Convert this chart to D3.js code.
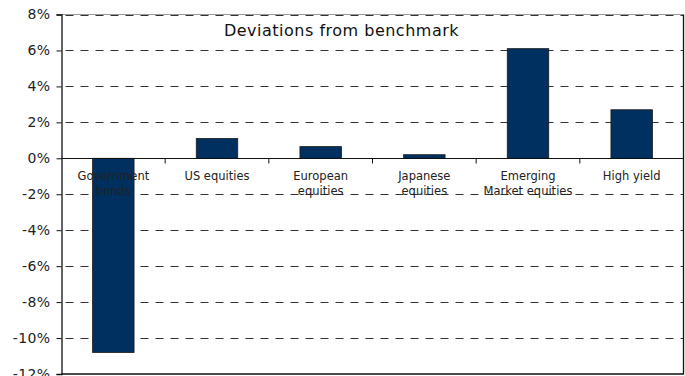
<!DOCTYPE html>
<html>
<head>
<meta charset="utf-8">
<script src="https://cdn.jsdelivr.net/npm/d3@7"></script>
<style>
  body { margin: 0; background: white; }
  svg { display: block; font-family: "DejaVu Sans", sans-serif; }
</style>
</head>
<body>
<svg id="plot"></svg>
<script>
// Data
const categories = ["Government bonds", "US equities", "European equities", "Japanese equities", "Emerging Market equities", "High yield"];
const labelLines = [["Government", "bonds"], ["US equities"], ["European", "equities"], ["Japanese", "equities"], ["Emerging", "Market equities"], ["High yield"]];
const deviations = [-10.8, 1.1, 0.65, 0.2, 6.1, 2.7];
const yTicks = [-12, -10, -8, -6, -4, -2, 0, 2, 4, 6, 8];
const title = "Deviations from benchmark";

let width = 685, height = 376;
let margin = { top: 14.5, bottom: 2, left: 61.5, right: 1.5 };

let svg = d3.select('#plot')
  .attr('width', width)
  .attr('height', height);

// Scales
let xScale = d3.scaleBand()
  .domain(categories)
  .range([margin.left, width - margin.right])
  .paddingInner(0.6)
  .paddingOuter(0.3);

let yScale = d3.scaleLinear()
  .domain([-12, 8])
  .range([height - margin.bottom, margin.top]);

const x0 = margin.left, x1 = width - margin.right;
const step = xScale.step();

// Top border (light) under the dashed gridline
svg.append('line')
  .attr('x1', x0).attr('x2', x1)
  .attr('y1', yScale(8)).attr('y2', yScale(8))
  .attr('stroke', '#9a9a9a').attr('stroke-width', 1);

// Dashed gridlines
svg.append('g')
  .selectAll('line')
  .data(yTicks.filter(d => d !== 0 && d !== -12))
  .enter()
  .append('line')
  .attr('x1', x0).attr('x2', x1)
  .attr('y1', d => Math.round(yScale(d)) + 0.5)
  .attr('y2', d => Math.round(yScale(d)) + 0.5)
  .attr('stroke', '#333')
  .attr('stroke-width', 1)
  .attr('stroke-dasharray', '8,7')
  .attr('stroke-dashoffset', -4);

// Right and bottom border
svg.append('path')
  .attr('d', `M${x1},${yScale(8)}V${yScale(-12)}H${x0}`)
  .attr('fill', 'none')
  .attr('stroke', '#111')
  .attr('stroke-width', 1.3);

// Bars
svg.selectAll('rect.bar')
  .data(deviations)
  .enter()
  .append('rect')
  .attr('class', 'bar')
  .attr('x', (d, i) => xScale(categories[i]))
  .attr('y', d => yScale(Math.max(0, d)))
  .attr('width', xScale.bandwidth())
  .attr('height', d => Math.abs(yScale(d) - yScale(0)))
  .attr('fill', '#00305f')
  .attr('stroke', '#1a1a1a')
  .attr('stroke-width', 0.8);

// Zero line with category ticks
let zeroY = Math.round(yScale(0)) + 0.5;
svg.append('line')
  .attr('x1', x0).attr('x2', x1)
  .attr('y1', zeroY).attr('y2', zeroY)
  .attr('stroke', '#111').attr('stroke-width', 1.2);

svg.append('g')
  .selectAll('line')
  .data(categories.slice(1))
  .enter()
  .append('line')
  .attr('x1', d => xScale(d) - step * 0.3)
  .attr('x2', d => xScale(d) - step * 0.3)
  .attr('y1', zeroY).attr('y2', zeroY + 5)
  .attr('stroke', '#111').attr('stroke-width', 1);

// Left axis
let yAxis = svg.append('g')
  .attr('transform', `translate(${x0}, 0)`)
  .call(d3.axisLeft(yScale).tickValues(yTicks).tickSize(5).tickPadding(6).tickFormat(d => d + '%'));

yAxis.select('.domain').attr('stroke', '#111').attr('stroke-width', 1.3);
yAxis.selectAll('.tick line').attr('stroke', '#111');
yAxis.selectAll('.tick text')
  .attr('fill', '#222')
  .style('font-family', '"DejaVu Sans", sans-serif')
  .style('font-size', '14px')
  .style('letter-spacing', '0.4px');

// Category labels
let labels = svg.append('g')
  .selectAll('text')
  .data(labelLines)
  .enter()
  .append('text')
  .attr('text-anchor', 'middle')
  .attr('fill', '#222')
  .style('font-size', '11.5px')
  .attr('x', (d, i) => xScale(categories[i]) + xScale.bandwidth() / 2)
  .attr('y', 180);

labels.selectAll('tspan')
  .data(d => d)
  .enter()
  .append('tspan')
  .attr('x', function() { return d3.select(this.parentNode).attr('x'); })
  .attr('dy', (d, i) => i === 0 ? 0 : 15)
  .text(d => d);

// Title
svg.append('text')
  .attr('x', 341.5)
  .attr('y', 36)
  .attr('text-anchor', 'middle')
  .attr('fill', '#111')
  .style('font-size', '16px')
  .style('letter-spacing', '0.5px')
  .text(title);
</script>
</body>
</html>
